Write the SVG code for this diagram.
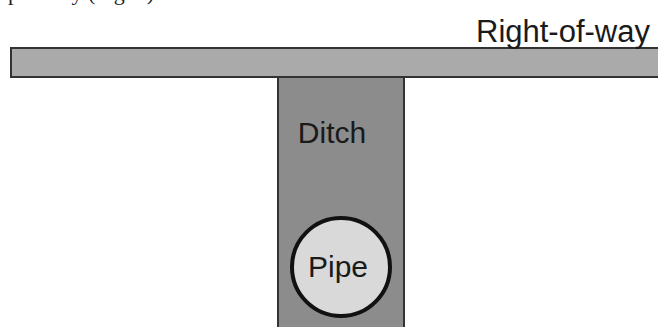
<svg xmlns="http://www.w3.org/2000/svg" width="658" height="327" viewBox="0 0 658 327">
<style>
.lbl{font-family:"Liberation Sans",Arial,sans-serif;fill:#1a1a1a}
</style>
<rect width="658" height="327" fill="#ffffff"/>
<text x="8" y="-0.5" font-family="Liberation Serif,serif" font-size="22" fill="#222">pathway (Fig. 1)</text>
<g id="road">
<rect x="11" y="48" width="652" height="29" fill="#aaaaaa" stroke="#333333" stroke-width="2"/>
<text class="lbl" x="650" y="42" font-size="31" text-anchor="end">Right-of-way</text>
</g>
<g id="ditch">
<rect x="278" y="77" width="126" height="260" fill="#8c8c8c" stroke="#333333" stroke-width="2"/>
<text class="lbl" x="332" y="143" font-size="30" text-anchor="middle">Ditch</text>
</g>
<g id="pipe">
<circle cx="341" cy="267" r="49" fill="#d9d9d9" stroke="#111111" stroke-width="4"/>
<text class="lbl" x="338" y="277" font-size="30" text-anchor="middle">Pipe</text>
</g>
<g id="connectors"/>
</svg>
